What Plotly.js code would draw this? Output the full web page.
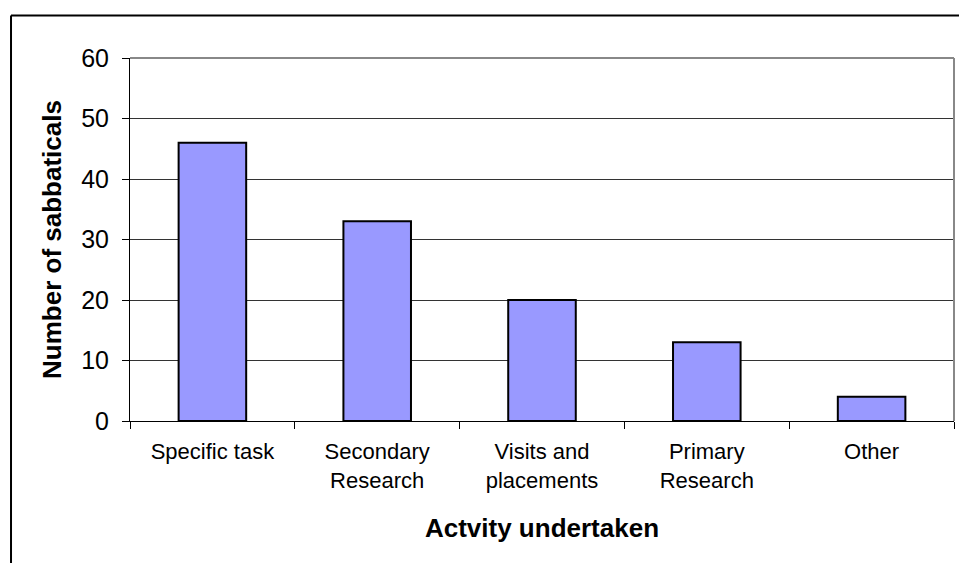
<!DOCTYPE html>
<html>
<head>
<meta charset="utf-8">
<script src="https://cdn.plot.ly/plotly-3.0.1.min.js"></script>
<style>html,body{margin:0;padding:0;background:#fff;}#chart{width:959px;height:563px;}</style>
</head>
<body>
<div id="chart"></div>
<script>
const categories = ["Specific task", "Secondary<br>Research", "Visits and<br>placements", "Primary<br>Research", "Other"];
const sabbaticals = [46, 33, 20, 13, 4];
const yTicks = [0, 10, 20, 30, 40, 50, 60];
const xTitle = "Actvity undertaken";
const yTitle = "Number of sabbaticals";

const font = "Liberation Sans, Arial, sans-serif";

const trace = {
  type: "bar",
  x: categories,
  y: sabbaticals,
  marker: {color: "#9999FF", line: {color: "#000000", width: 2}},
  hoverinfo: "none"
};

const layout = {
  width: 959, height: 563,
  margin: {l: 130, r: 5, t: 58, b: 142},
  paper_bgcolor: "#ffffff",
  plot_bgcolor: "#ffffff",
  showlegend: false,
  bargap: 0.59,
  font: {family: font, color: "#000000"},
  xaxis: {
    type: "category",
    tickson: "boundaries",
    ticks: "outside", ticklen: 7, tickcolor: "#000", tickwidth: 1,
    showline: true, linecolor: "#000", linewidth: 1,
    showgrid: false,
    tickfont: {size: 22, family: font},
    ticklabelstandoff: 11,
    title: {text: xTitle, font: {size: 26, family: font, weight: "bold"}, standoff: 26},
    automargin: false
  },
  yaxis: {
    range: [0, 60],
    tickvals: yTicks,
    ticks: "outside", ticklen: 7, tickcolor: "#000", tickwidth: 1,
    showline: true, linecolor: "#000", linewidth: 1,
    showgrid: true, gridcolor: "#333333", gridwidth: 1,
    zeroline: false,
    tickfont: {size: 25, family: font},
    ticklabelstandoff: 8,
    title: {text: yTitle, font: {size: 26, family: font, weight: "bold"}, standoff: 12},
    automargin: false
  },
  shapes: [
    {type: "line", xref: "paper", yref: "paper", x0: 0, x1: 1, y0: 1, y1: 1, line: {color: "#888888", width: 2}},
    {type: "line", xref: "paper", yref: "paper", x0: 1, x1: 1, y0: 0, y1: 1, line: {color: "#888888", width: 2}},
    {type: "line", xref: "paper", yref: "paper", x0: -0.1444, x1: 1.2, y0: 1.117, y1: 1.117, line: {color: "#000000", width: 2}},
    {type: "line", xref: "paper", yref: "paper", x0: -0.1444, x1: -0.1444, y0: -0.5, y1: 1.117, line: {color: "#000000", width: 2}}
  ]
};

Plotly.newPlot("chart", [trace], layout, {staticPlot: true, displayModeBar: false});
</script>
</body>
</html>
